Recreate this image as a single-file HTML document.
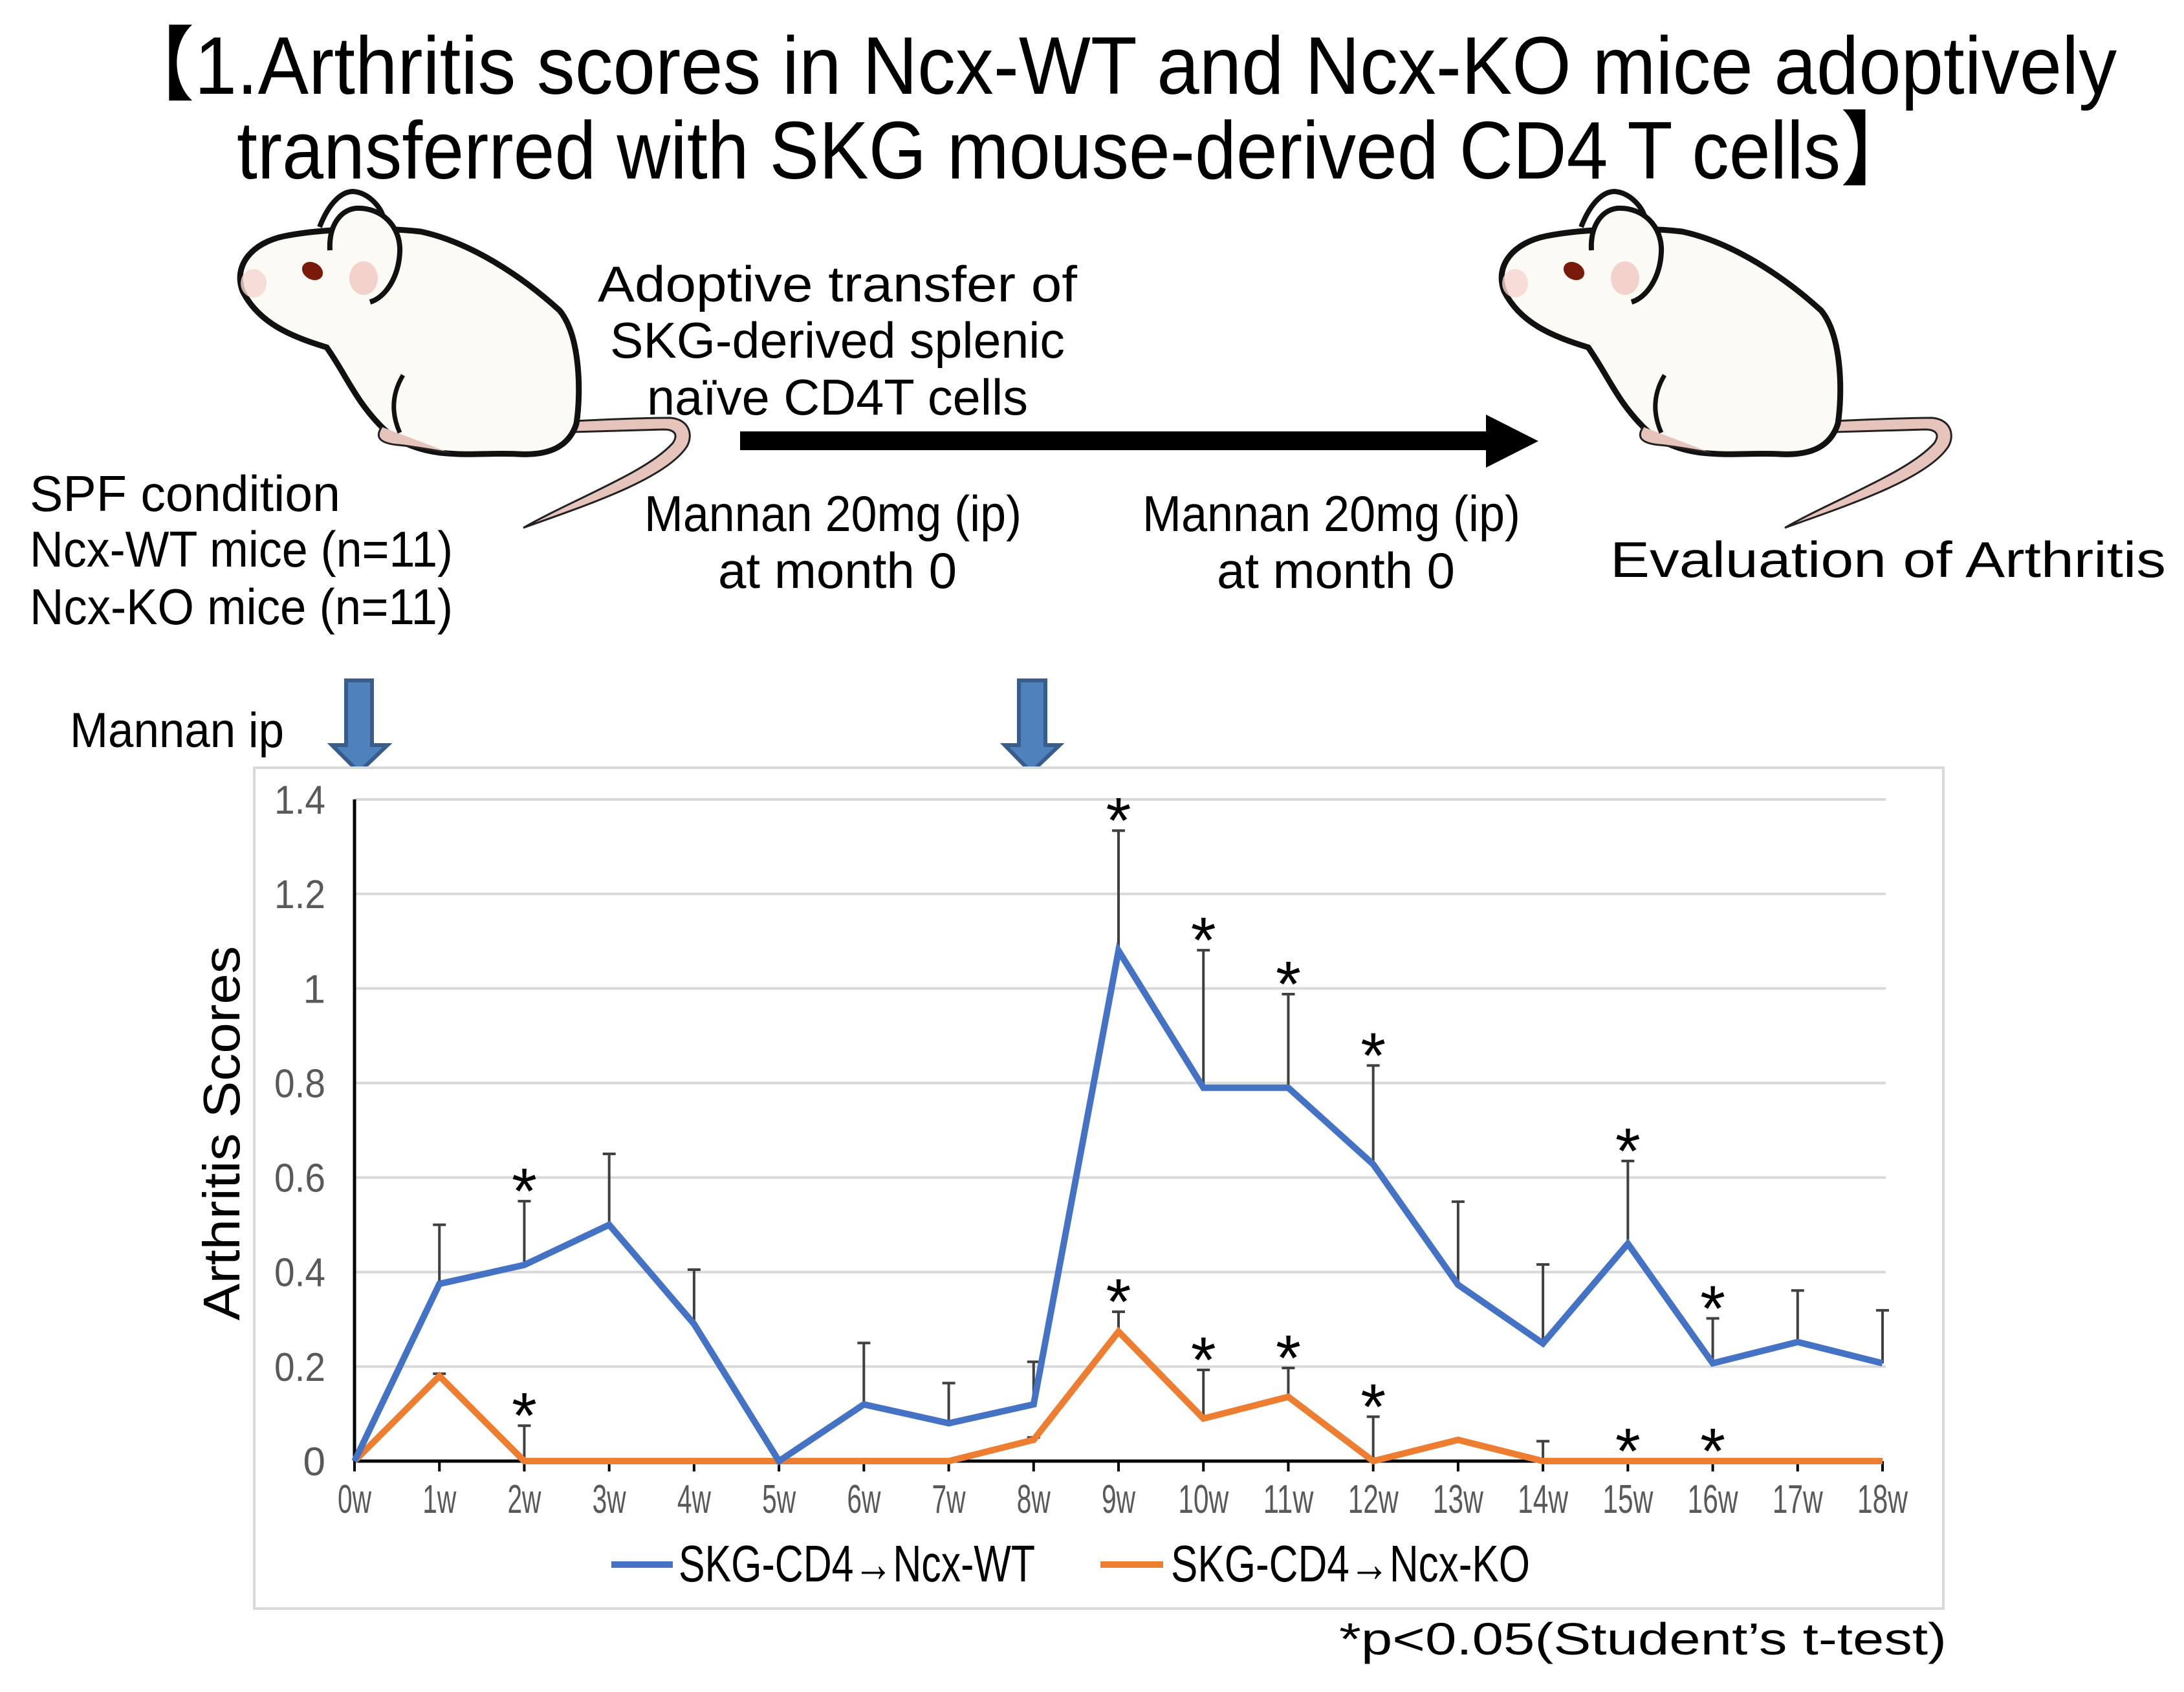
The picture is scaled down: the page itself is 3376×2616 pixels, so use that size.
<!DOCTYPE html>
<html><head><meta charset="utf-8"><style>
html,body{margin:0;padding:0;background:#fff;}
svg{display:block;}
text{font-family:"Liberation Sans","Noto Sans CJK JP",sans-serif;}
</style></head><body>
<svg id="fig" width="3376" height="2616" viewBox="0 0 3376 2616" xmlns="http://www.w3.org/2000/svg">
<defs>
<g id="mouse">
  <path d="M536,371 C600,368 650,366 686,366 C715,368 722,392 712,410 C680,460 560,500 459,536 C540,490 650,450 690,405 C700,390 690,384 676,384 L536,388 Z" fill="#e6c3bb" stroke="#222" stroke-width="3"/>
  <path d="M155,257 C100,240 50,220 25,170 C10,130 40,95 90,85 C140,75 230,70 300,78 C380,95 460,150 515,200 C548,240 548,330 541,375 C530,410 500,425 450,422 C400,420 380,425 330,420 C290,415 260,400 240,380 C200,340 185,300 155,257 Z" fill="#fbfaf4" stroke="#111" stroke-width="9"/>
  <path d="M240,380 C230,395 235,405 265,408 C290,410 330,418 345,420" fill="#e6c3bb" stroke="#222" stroke-width="3"/>
  <path d="M144,71 C160,30 180,16 196,16 C220,18 238,40 242,54" fill="none" stroke="#111" stroke-width="8"/>
  <path d="M160,107 C158,70 175,45 200,42 C240,40 270,70 268,110 C266,150 245,180 222,187" fill="#fbfaf4" stroke="#111" stroke-width="8"/>
  <ellipse cx="212" cy="150" rx="22" ry="26" fill="#f0c8c0" opacity="0.8"/>
  <ellipse cx="42" cy="158" rx="20" ry="22" fill="#f6d6d0" opacity="0.8"/>
  <ellipse cx="133" cy="139" rx="17" ry="13" fill="#7a1a0a" transform="rotate(30 133 139)"/>
  <path d="M273,300 C255,330 255,360 268,389" fill="none" stroke="#111" stroke-width="7"/>
</g>
</defs>

<text x="183" y="145" font-size="126" textLength="3089" lengthAdjust="spacingAndGlyphs">【1.Arthritis scores in Ncx-WT and Ncx-KO mice adoptively</text>
<text x="366" y="276" font-size="126" textLength="2594" lengthAdjust="spacingAndGlyphs">transferred with SKG mouse-derived CD4 T cells】</text>

<use href="#mouse" x="350" y="280"/>
<use href="#mouse" x="2300" y="280"/>

<g font-size="78">
<text x="46" y="790" textLength="480" lengthAdjust="spacingAndGlyphs">SPF condition</text>
<text x="46" y="876" textLength="654" lengthAdjust="spacingAndGlyphs">Ncx-WT mice (n=11)</text>
<text x="46" y="965" textLength="654" lengthAdjust="spacingAndGlyphs">Ncx-KO mice (n=11)</text>
</g>
<g font-size="78">
<text x="924" y="466" textLength="741" lengthAdjust="spacingAndGlyphs">Adoptive transfer of</text>
<text x="943" y="553" textLength="703" lengthAdjust="spacingAndGlyphs">SKG-derived splenic</text>
<text x="1000" y="641" textLength="589" lengthAdjust="spacingAndGlyphs">naïve CD4T cells</text>
</g>
<g>
<rect x="1144" y="667" width="1160" height="29" fill="#000"/>
<polygon points="2297,641 2378,682 2297,723" fill="#000"/>
</g>
<g font-size="78">
<text x="996" y="821" textLength="583" lengthAdjust="spacingAndGlyphs">Mannan 20mg (ip)</text>
<text x="1110" y="909" textLength="369" lengthAdjust="spacingAndGlyphs">at month 0</text>
<text x="1766" y="821" textLength="584" lengthAdjust="spacingAndGlyphs">Mannan 20mg (ip)</text>
<text x="1881" y="909" textLength="368" lengthAdjust="spacingAndGlyphs">at month 0</text>
</g>
<text x="2489" y="892" font-size="78" textLength="859" lengthAdjust="spacingAndGlyphs">Evaluation of Arthritis</text>
<text x="108" y="1155" font-size="76" textLength="331" lengthAdjust="spacingAndGlyphs">Mannan ip</text>
<g>
<path d="M535,1052 L575,1052 L575,1152 L599,1152 L555,1194 L513,1152 L535,1152 Z" fill="#4F81BD" stroke="#385D8A" stroke-width="6"/>
</g>
<g>
<path d="M1575,1052 L1616,1052 L1616,1152 L1638,1152 L1594,1194 L1553,1152 L1575,1152 Z" fill="#4F81BD" stroke="#385D8A" stroke-width="6"/>
</g>

<rect x="393" y="1187" width="2611" height="1300" fill="#fff" stroke="#d9d9d9" stroke-width="4"/>
<g id="chart"></g>
<text x="2070" y="2558" font-size="70" textLength="939" lengthAdjust="spacingAndGlyphs">*p&lt;0.05(Student’s t-test)</text>
</svg>
<script>
const categories = ["0w","1w","2w","3w","4w","5w","6w","7w","8w","9w","10w","11w","12w","13w","14w","15w","16w","17w","18w"];
const wtValues = [0,0.375,0.415,0.5,0.29,0,0.12,0.08,0.12,1.08,0.79,0.79,0.628,0.373,0.249,0.46,0.207,0.252,0.207];
const wtErrTop = [null,0.50,0.55,0.65,0.405,null,0.25,0.165,0.21,1.334,1.081,0.988,0.837,0.549,0.416,0.635,0.302,0.361,0.319];
const koValues = [0,0.18,0,0,0,0,0,0,0.045,0.274,0.09,0.136,0,0.045,0,0,0,0,0];
const koErrTop = [null,0.185,0.075,null,null,null,null,null,0.05,0.316,0.193,0.197,0.094,null,0.042,null,null,null,null];
const wtStars = ["2w","9w","10w","11w","12w","15w","16w"];
const koStars = ["2w","9w","10w","11w","12w","15w","16w"];
const yTicks = [0,0.2,0.4,0.6,0.8,1,1.2,1.4];
const yTickLabels = ["0","0.2","0.4","0.6","0.8","1","1.2","1.4"];

const NS = "http://www.w3.org/2000/svg";
const g = document.getElementById('chart');
const X0 = 548, X1 = 2910, Y0 = 2259, Y1 = 1236, YMAX = 1.4;
function xs(i){ return X0 + (X1 - X0) * i / (categories.length - 1); }
function ys(v){ return Y0 - (Y0 - Y1) * v / YMAX; }
function mk(tag, attrs){ const e = document.createElementNS(NS, tag); for (const k in attrs) e.setAttribute(k, attrs[k]); g.appendChild(e); return e; }

yTicks.forEach((t, i) => {
  if (t > 0) {
    const gl = mk('line', {x1: X0, x2: X1 + 5, y1: ys(t), y2: ys(t), stroke: '#d9d9d9', 'stroke-width': 4});
    
    
  }
  const attrs = {x: 503, y: ys(t) + 22, 'font-size': 62, fill: '#595959', 'text-anchor': 'end'};
  if (yTickLabels[i].length > 1) { attrs.textLength = 79; attrs.lengthAdjust = 'spacingAndGlyphs'; }
  const lb = mk('text', attrs);
  lb.textContent = yTickLabels[i];
  
  
});
const yAxis = mk('line', {x1: X0, x2: X0, y1: Y1, y2: Y0, stroke: '#000', 'stroke-width': 5});


const xAxis = mk('line', {x1: X0, x2: X1, y1: Y0, y2: Y0, stroke: '#000', 'stroke-width': 5});


categories.forEach((c, i) => {
  const tk = mk('line', {x1: xs(i), x2: xs(i), y1: Y0, y2: Y0 + 16, stroke: '#000', 'stroke-width': 4});
  
  
  const lb = mk('text', {x: xs(i), y: 2339, 'font-size': 62, fill: '#595959', 'text-anchor': 'middle', textLength: c.length > 2 ? 78 : 52, lengthAdjust: 'spacingAndGlyphs'});
  lb.textContent = c;
  
  
});
const yt = mk('text', {x: 0, y: 0, 'font-size': 80, 'text-anchor': 'middle', transform: 'translate(370,1752) rotate(-90)', textLength: 579, lengthAdjust: 'spacingAndGlyphs'});
yt.textContent = 'Arthritis Scores';



function errBars(vals, tops, name){
  vals.forEach((v, i) => {
    if (tops[i] == null) return;
    const l = mk('line', {x1: xs(i), x2: xs(i), y1: ys(v), y2: ys(tops[i]), stroke: '#404040', 'stroke-width': 4});
    
    
    const cap = mk('line', {x1: xs(i) - 10, x2: xs(i) + 10, y1: ys(tops[i]), y2: ys(tops[i]), stroke: '#404040', 'stroke-width': 4});
    
    
  });
}
errBars(wtValues, wtErrTop, 'wt');
errBars(koValues, koErrTop, 'ko');
function series(vals, color, name){
  const p = mk('polyline', {points: vals.map((v, i) => xs(i) + ',' + ys(v)).join(' '), fill: 'none', stroke: color, 'stroke-width': 10, 'stroke-linejoin': 'miter'});
  
  
}
series(koValues, '#ED7D31', 'ko-series-line');
series(wtValues, '#4472C4', 'wt-series-line');
function stars(list, vals, tops, name){
  list.forEach(c => {
    const i = categories.indexOf(c);
    const top = tops[i] != null ? tops[i] : vals[i];
    const cy = ys(top) - 36;
    const s = mk('text', {x: xs(i), y: cy + 55, 'font-size': 100, 'text-anchor': 'middle'});
    s.textContent = '*';
    
    
  });
}
stars(wtStars, wtValues, wtErrTop, 'wt');
stars(koStars, koValues, koErrTop, 'ko');

const l1 = mk('line', {x1: 945, x2: 1040, y1: 2419, y2: 2419, stroke: '#4472C4', 'stroke-width': 10});


const t1 = mk('text', {x: 1049, y: 2445, 'font-size': 80, textLength: 551, lengthAdjust: 'spacingAndGlyphs'});
t1.textContent = 'SKG-CD4→Ncx-WT';


const l2 = mk('line', {x1: 1701, x2: 1798, y1: 2419, y2: 2419, stroke: '#ED7D31', 'stroke-width': 10});


const t2 = mk('text', {x: 1810, y: 2445, 'font-size': 80, textLength: 555, lengthAdjust: 'spacingAndGlyphs'});
t2.textContent = 'SKG-CD4→Ncx-KO';


</script>
</body></html>
